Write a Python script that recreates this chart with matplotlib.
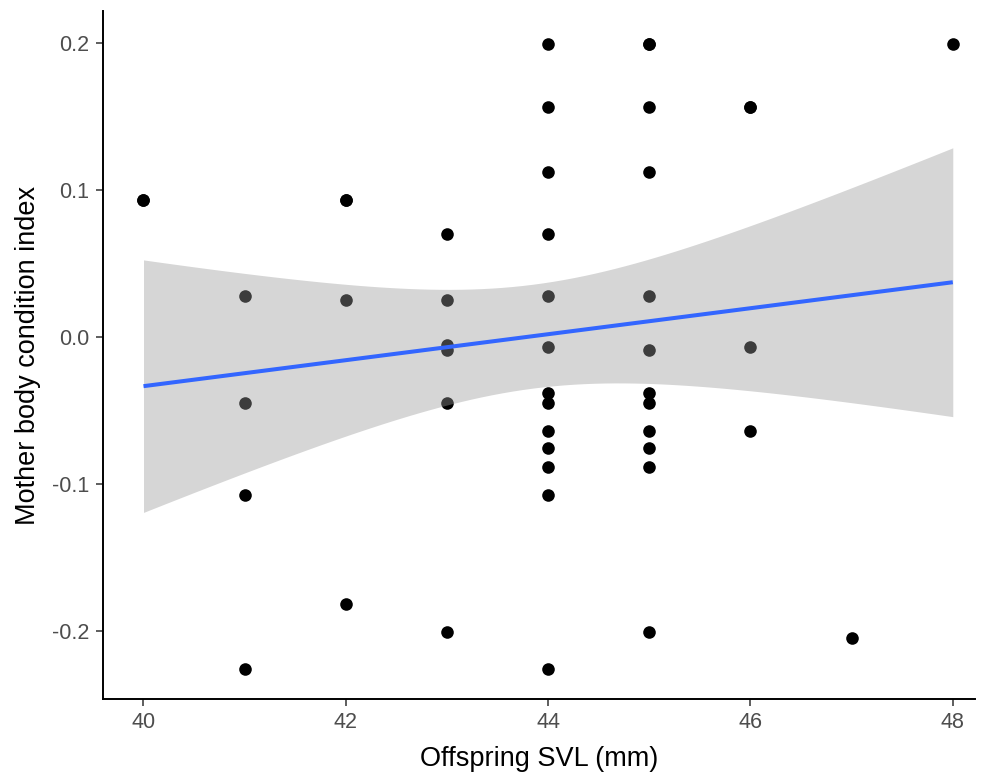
import numpy as np
import matplotlib
matplotlib.use("Agg")
import matplotlib.pyplot as plt

plt.rcParams['font.family'] = ['Liberation Sans', 'DejaVu Sans']

# offspring SVL (mm) and mother body condition index
# (a few dots look heavier in the original, so they are listed twice)
svl = [40, 40,
       41, 41, 41, 41,
       42, 42, 42, 42,
       43, 43, 43, 43, 43, 43,
       44, 44, 44, 44, 44, 44, 44, 44, 44, 44, 44, 44, 44,
       45, 45, 45, 45, 45, 45, 45, 45, 45, 45, 45, 45,
       46, 46, 46, 46,
       47,
       48]
condition = [0.093, 0.093,
             0.028, -0.045, -0.108, -0.226,
             0.093, 0.093, 0.025, -0.182,
             0.070, 0.025, -0.006, -0.009, -0.045, -0.201,
             0.199, 0.156, 0.112, 0.070, 0.028, -0.007, -0.038, -0.045,
             -0.064, -0.076, -0.089, -0.108, -0.226,
             0.199, 0.199, 0.156, 0.112, 0.028, -0.009, -0.038,
             -0.045, -0.064, -0.076, -0.089, -0.201,
             0.156, 0.156, -0.007, -0.064,
             -0.205,
             0.199]

x_ticks = [40, 42, 44, 46, 48]
y_ticks = [-0.2, -0.1, 0.0, 0.1, 0.2]
y_ticklabels = ['-0.2', '-0.1', '0.0', '0.1', '0.2']

t_crit = 2.015  # t(0.975, df = n - 2)

x = np.array(svl, dtype=float)
y = np.array(condition)

# linear fit with 95% confidence band, like geom_smooth(method = "lm")
slope, intercept = np.polyfit(x, y, 1)
n = len(x)
resid = y - (slope * x + intercept)
s = np.sqrt(np.sum(resid ** 2) / (n - 2))
sxx = np.sum((x - x.mean()) ** 2)
xs = np.linspace(x.min(), x.max(), 80)
fit = slope * xs + intercept
se = s * np.sqrt(1.0 / n + (xs - x.mean()) ** 2 / sxx)

fig = plt.figure(figsize=(9.85, 7.78), dpi=100)
ax = fig.add_axes([0.1046, 0.1015, 0.8853, 0.8843])

ax.scatter(x, y, s=82, color='black', linewidths=0, zorder=2)
ax.fill_between(xs, fit - t_crit * se, fit + t_crit * se,
                color='#999999', alpha=0.4, linewidth=0, zorder=3)
ax.plot(xs, fit, color='#3366FF', lw=2.9, zorder=4, solid_capstyle='butt')

ax.set_xlim(39.6, 48.22)
ax.set_ylim(-0.2465, 0.2215)
ax.set_xticks(x_ticks)
ax.set_yticks(y_ticks)
ax.set_yticklabels(y_ticklabels)

for side in ['top', 'right']:
    ax.spines[side].set_visible(False)
for side in ['left', 'bottom']:
    ax.spines[side].set_linewidth(1.4)
    ax.spines[side].set_color('black')

ax.tick_params(axis='both', length=5, width=1.1, color='#333333',
               labelcolor='#4D4D4D', labelsize=15.5, pad=4)
ax.tick_params(axis='y', pad=5)

ax.set_xlabel('Offspring SVL (mm)', fontsize=19.5, color='black', labelpad=10)
ax.set_ylabel('Mother body condition index', fontsize=19.5, color='black', labelpad=8)

fig.savefig('out.png', dpi=100)
